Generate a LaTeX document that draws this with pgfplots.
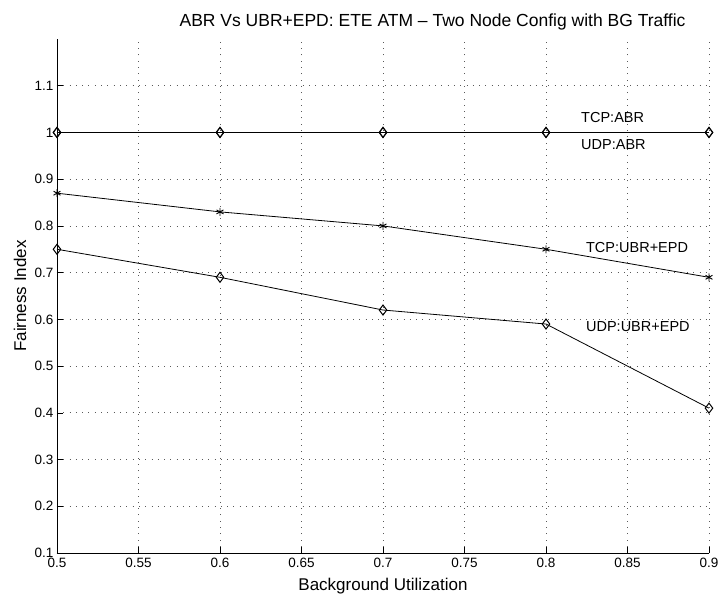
\documentclass[border=0pt]{standalone}
\usepackage{fontspec}
\setmainfont{Liberation Sans}
\usepackage{pgfplots}
\pgfplotsset{compat=1.18}
\begin{document}
\begin{tikzpicture}[x=1pt,y=1pt]
\useasboundingbox (-57,-47) rectangle (665,553);
\begin{axis}[
  at={(0,0)}, anchor=origin,
  scale only axis,
  width=652pt, height=514pt,
  xmin=0.5, xmax=0.9, ymin=0.1, ymax=1.2,
  xtick={0.5,0.55,...,0.9},
  ytick={0.1,0.2,...,1.1},
  xticklabels={0.5,0.55,0.6,0.65,0.7,0.75,0.8,0.85,0.9},
  yticklabels={0.1,0.2,0.3,0.4,0.5,0.6,0.7,0.8,0.9,1,1.1},
  axis x line*=bottom, axis y line*=left,
  tick align=inside, major tick length=6pt,
  every tick/.style={black, line width=0.6pt},
  axis line style={line width=0.8pt},
  grid=major,
  major grid style={dash pattern=on 0.8pt off 5.5pt, line width=0.7pt, black!65},
  tick label style={font=\fontsize{13.5}{16}\selectfont},
  xticklabel style={yshift=-2pt},
  /pgf/number format/assume math mode=true,
  xlabel={Background Utilization},
  ylabel={Fairness Index},
  every axis x label/.style={at={([yshift=-33pt]axis description cs:0.5,0)}, anchor=center, font=\fontsize{17}{19}\selectfont},
  every axis y label/.style={at={([xshift=-37pt]axis description cs:0,0.5)}, anchor=center, rotate=90, font=\fontsize{17}{19}\selectfont},
  clip=false,
]
\addplot[black, line width=1.3pt, mark=diamond, mark size=5pt, mark options={solid, fill=white, line width=1pt}]
  coordinates {(0.5,1) (0.6,1) (0.7,1) (0.8,1) (0.9,1)};
\addplot[black, line width=0.8pt, mark=diamond, mark size=5pt, mark options={solid, fill=white, line width=1pt}]
  coordinates {(0.5,1) (0.6,1) (0.7,1) (0.8,1) (0.9,1)};
\addplot[black, line width=0.8pt, mark=asterisk, mark size=4pt, mark options={solid, line width=0.9pt}]
  coordinates {(0.5,0.87) (0.6,0.83) (0.7,0.80) (0.8,0.75) (0.9,0.69)};
\addplot[black, line width=0.8pt, mark=diamond, mark size=5pt, mark options={solid, fill=white, line width=1pt}]
  coordinates {(0.5,0.75) (0.6,0.69) (0.7,0.62) (0.8,0.59) (0.9,0.41)};
\node[font=\fontsize{14.5}{16}\selectfont, anchor=base west, inner sep=0pt] at (axis cs:0.8215,1.0208) {TCP:ABR};
\node[font=\fontsize{14.5}{16}\selectfont, anchor=base west, inner sep=0pt] at (axis cs:0.8215,0.963) {UDP:ABR};
\node[font=\fontsize{14.5}{16}\selectfont, anchor=base west, inner sep=0pt] at (axis cs:0.8245,0.7424) {TCP:UBR+EPD};
\node[font=\fontsize{14.5}{16}\selectfont, anchor=base west, inner sep=0pt] at (axis cs:0.8245,0.5732) {UDP:UBR+EPD};
\node[font=\fontsize{17.5}{19}\selectfont, anchor=base, inner sep=0pt] at (axis cs:0.7304,1.2278) {ABR Vs UBR+EPD: ETE ATM – Two Node Config with BG Traffic};
\end{axis}
\end{tikzpicture}
\end{document}
